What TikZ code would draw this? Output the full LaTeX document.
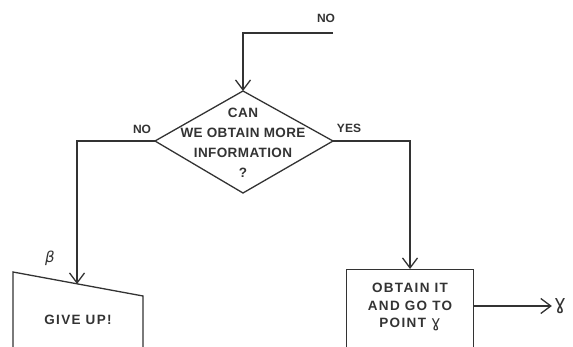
\documentclass[tikz,border=0pt]{standalone}
\usepackage{fontspec}
\setmainfont{Liberation Sans}
\newfontfamily\wideb[LetterSpace=10]{Liberation Sans}
\newfontfamily\narrowb[LetterSpace=3]{Liberation Sans}
\newfontfamily\dvs{DejaVu Sans}
\usetikzlibrary{arrows.meta}
\definecolor{ink}{HTML}{333333}
\tikzset{
  line/.style={draw=ink, line width=1.3pt},
  arr/.style={line, -{Straight Barb[length=10pt,width=15pt,line width=1.3pt]}},
  lbl/.style={text=ink, font=\fontsize{12}{14}\selectfont\bfseries, inner sep=0pt},
  boxtext/.style={text=ink, font=\wideb\fontsize{13.5}{17.5}\selectfont\bfseries, align=center, inner sep=0pt},
  qtext/.style={text=ink, font=\narrowb\fontsize{13.5}{20}\selectfont\bfseries, align=center, inner sep=0pt},
}
\begin{document}
\begin{tikzpicture}[x=1pt,y=-1pt]
\useasboundingbox (0,0) rectangle (573,347);
\clip (0,0) rectangle (573,347);
% diamond corners
\coordinate (dT) at (243,91);
\coordinate (dB) at (243,193);
\coordinate (dL) at (155,141);
\coordinate (dR) at (333,141);
\draw[line, line join=miter] (dT) -- (dR) -- (dB) -- (dL) -- cycle;
\node[qtext] (q) at (243,143) {CAN\\WE OBTAIN MORE\\INFORMATION\\?};
% incoming
\coordinate (inS) at (333,33);
\node[lbl] (no1) at (326,18) {NO};
\draw[arr] (inS) -| (dT);
% left branch
\coordinate (gTL) at (13,272);
\coordinate (gTR) at (143,296);
\coordinate (gBL) at (13,360);
\coordinate (gBR) at (143,360);
\draw[line] (gBL) -- (gTL) -- (gTR) -- (gBR);
\coordinate (gIn) at (77,284);
\node[boxtext] (give) at (78,320) {GIVE UP!};
\node[lbl, font=\dvs\fontsize{15}{16}\selectfont\itshape] (beta) at (50,258) {β};
\node[lbl] (no2) at (142,129) {NO};
\draw[arr] (dL) -| (gIn);
% right branch
\node[draw=ink, line width=1.3pt, minimum width=127pt, minimum height=90pt, anchor=north] (obt) at (410,269) {};
\node[boxtext] (obtt) at (410,307) {OBTAIN IT\\AND GO TO\\POINT {\dvs\mdseries\fontsize{16}{17.5}\selectfont ɣ}};
\node[lbl] (yes) at (349,128) {YES};
\draw[arr] (dR) -| (obt.north);
\node[lbl, font=\dvs\fontsize{20}{22}\selectfont] (gam) at (560,306) {ɣ};
\draw[arr] (obt.east |- gam) -- ([xshift=-2pt]gam.west);
\end{tikzpicture}
\end{document}
